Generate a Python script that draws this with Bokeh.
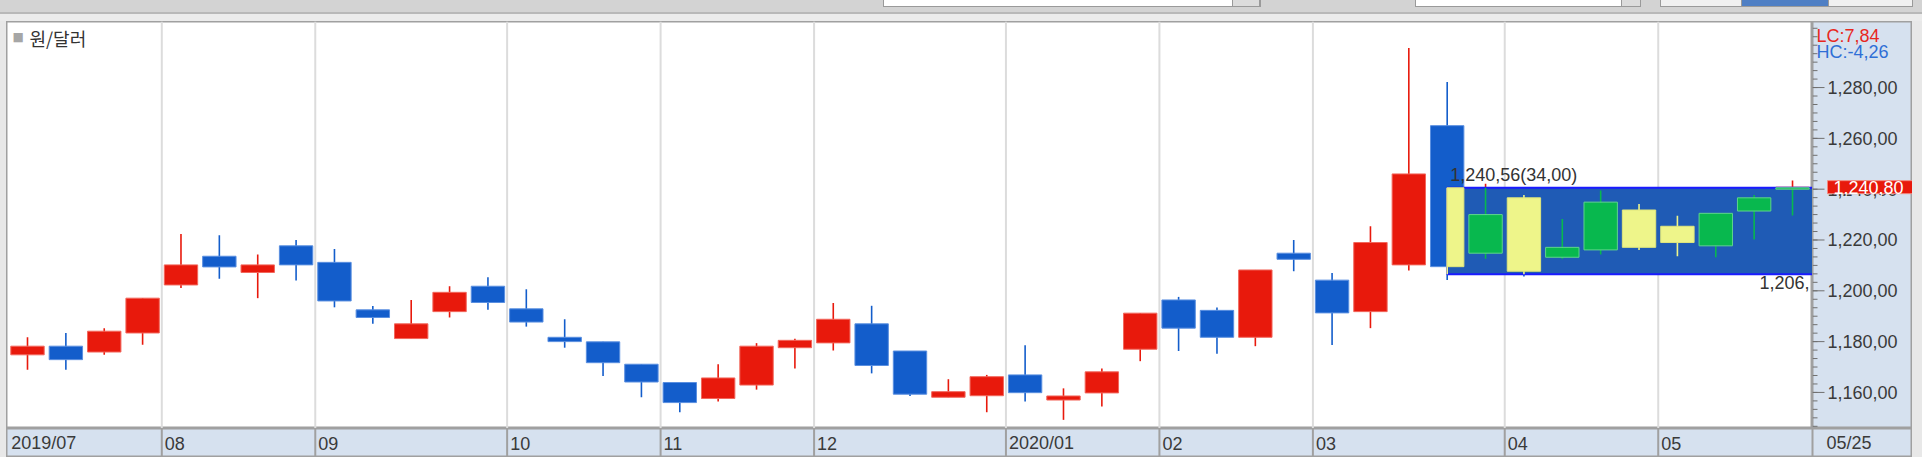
import numpy as np
from bokeh.plotting import figure
from bokeh.layouts import column, row
from bokeh.models import Range1d, Label, Span, ColumnDataSource, Div
from bokeh.embed import file_html
from bokeh.resources import INLINE
from bokeh.core.properties import value

# ---------------- data (weekly candles, KRW per USD) ----------------
dates = ["2019-07-08", "2019-07-15", "2019-07-22", "2019-07-29",
         "2019-08-05", "2019-08-12", "2019-08-19", "2019-08-26",
         "2019-09-02", "2019-09-09", "2019-09-16", "2019-09-23", "2019-09-30",
         "2019-10-07", "2019-10-14", "2019-10-21", "2019-10-28",
         "2019-11-04", "2019-11-11", "2019-11-18", "2019-11-25",
         "2019-12-02", "2019-12-09", "2019-12-16", "2019-12-23", "2019-12-30",
         "2020-01-06", "2020-01-13", "2020-01-20", "2020-01-27",
         "2020-02-03", "2020-02-10", "2020-02-17", "2020-02-24",
         "2020-03-02", "2020-03-09", "2020-03-16", "2020-03-23", "2020-03-30",
         "2020-04-06", "2020-04-13", "2020-04-20", "2020-04-27",
         "2020-05-04", "2020-05-11", "2020-05-18", "2020-05-25"]
opens = [1174.8, 1178.2, 1175.9, 1183.4, 1202.3, 1213.6, 1207.2, 1217.7, 1211.2, 1192.5,
         1181.2, 1191.8, 1201.8, 1192.9, 1181.7, 1179.9, 1171.1, 1163.9, 1157.6, 1162.9,
         1177.6, 1179.5, 1187.0, 1176.3, 1158.1, 1158.7, 1166.9, 1157.0, 1159.8, 1177.0,
         1196.4, 1192.3, 1181.7, 1214.8, 1204.2, 1191.8, 1210.2, 1265.0, 1214.8, 1236.6,
         1213.2, 1216.1, 1231.8, 1225.4, 1217.7, 1231.4, 1240.0]
highs = [1181.7, 1183.4, 1185.3, 1197.2, 1222.4, 1221.9, 1214.3, 1220.0, 1216.5, 1194.0,
         1196.4, 1201.8, 1205.3, 1200.6, 1188.8, 1179.9, 1171.1, 1163.9, 1171.1, 1179.4,
         1181.1, 1195.2, 1194.1, 1176.3, 1165.2, 1166.9, 1178.6, 1161.6, 1169.4, 1191.2,
         1197.6, 1193.4, 1208.2, 1220.0, 1207.0, 1225.4, 1295.6, 1282.2, 1242.1, 1237.7,
         1228.3, 1239.5, 1234.2, 1229.5, 1230.5, 1237.7, 1243.4]
lows = [1168.9, 1168.9, 1174.8, 1178.8, 1201.1, 1204.7, 1197.1, 1204.1, 1193.5, 1187.0,
        1181.2, 1189.5, 1192.5, 1185.9, 1177.6, 1166.5, 1158.1, 1152.2, 1156.4, 1161.1,
        1169.4, 1176.5, 1167.5, 1158.6, 1158.1, 1152.2, 1156.4, 1149.2, 1154.5, 1172.3,
        1176.3, 1175.2, 1178.2, 1207.7, 1178.7, 1185.3, 1208.0, 1204.3, 1212.6, 1205.6,
        1212.6, 1214.3, 1216.1, 1213.6, 1213.2, 1220.2, 1229.6]
closes = [1178.2, 1172.9, 1184.1, 1197.1, 1210.2, 1209.4, 1210.2, 1210.2, 1196.0, 1189.5,
          1187.0, 1199.4, 1195.4, 1187.7, 1180.0, 1171.7, 1164.1, 1156.0, 1165.7, 1178.2,
          1180.5, 1188.8, 1170.6, 1159.3, 1160.3, 1166.2, 1159.9, 1158.6, 1168.1, 1191.2,
          1185.3, 1181.7, 1208.2, 1212.4, 1191.3, 1219.0, 1246.0, 1209.5, 1230.0, 1207.7,
          1217.1, 1234.9, 1217.1, 1219.0, 1230.5, 1236.6, 1240.8]

y_ticks = [1160, 1180, 1200, 1220, 1240, 1260, 1280]
last_price = 1240.80
lc_text = "LC:7,84"
hc_text = "HC:-4,26"
box_start = "2020-03-23"
box_top = 1240.56
box_bottom = 1206.56
title_text = "원/달러"
last_date_label = "05/25"

# ---------------- styling / layout constants ----------------
RED, RED_EDGE = "#e8190c", "#f2675c"
BLUE, BLUE_EDGE = "#135dcb", "#5a8fe0"
GREEN, GREEN_EDGE = "#08b84e", "#5fd48c"
YELLOW, YELLOW_EDGE = "#eef58a", "#dfe67c"
PANEL = "#d6e1ef"
BORDER = "#a0a0a0"
UI_GRAY = "#e8e8e8"
NUM_FONT = "Liberation Sans"
KR_FONT = "Noto Sans CJK KR"
FS = "18px"

TOP_H = 21
MID_H = 407
BAND_H = 29
LEFT_W = 6
MAIN_W = 1806
PANEL_W = 100
RIGHT_W = 10
PX_PER_BAR = 38.37
FIRST_BAR_PX = 21

n = len(dates)
x = np.arange(n)
x_start = -FIRST_BAR_PX / PX_PER_BAR
x_end = x_start + MAIN_W / PX_PER_BAR
xr = Range1d(x_start, x_end)
yr = Range1d(1145.8, 1306.0)


def kfmt(v):
    return f"{v:,.2f}".replace(".", ",")


def bare(fig):
    fig.grid.visible = False
    fig.min_border_left = fig.min_border_right = 0
    fig.min_border_top = fig.min_border_bottom = 0
    return fig


# ---------------- main chart ----------------
p = bare(figure(width=MAIN_W, height=MID_H, x_range=xr, y_range=yr,
                toolbar_location=None, output_backend="svg",
                x_axis_location=None, y_axis_location=None))
p.background_fill_color = "white"
p.border_fill_color = "white"
p.outline_line_color = BORDER
p.outline_line_width = 2

months = [d[:7] for d in dates]
bounds, blabels = [], []
for i, m in enumerate(months):
    if i == 0 or m != months[i - 1]:
        bounds.append(i - 0.5)
        yy, mm = m.split("-")
        blabels.append(f"{yy}/{mm}" if (i == 0 or mm == "01") else mm)

for b in bounds[1:]:
    p.add_layout(Span(location=b, dimension="height", line_color="#dcdcdc",
                      line_width=2, level="underlay"))

o, h, l, c = map(np.array, (opens, highs, lows, closes))
up = c >= o
btop = np.maximum(o, c)
bbot = np.minimum(o, c)
W = 0.87

src = ColumnDataSource(dict(x=x, h=h, l=l, top=btop, bot=bbot,
                            color=np.where(up, RED, BLUE),
                            edge=np.where(up, RED_EDGE, BLUE_EDGE)))
p.segment(x0="x", y0="l", x1="x", y1="h", line_color="color", line_width=1.6, source=src)
p.vbar(x="x", width=W, top="top", bottom="bot", fill_color="color",
       line_color="edge", line_width=1, source=src)

bi = dates.index(box_start)
p.quad(left=[bi], right=[x_end + 1], bottom=[box_bottom], top=[box_top],
       fill_color="#1f5bb5", line_color="#1a1aff", line_width=2)

ml = np.maximum(x - W / 2, bi)
mr = x + W / 2
mb = np.maximum(bbot, box_bottom)
mt = np.minimum(btop, box_top)
sel = (mr > ml) & (mt > mb)
wy0 = np.maximum(l, box_bottom)
wy1 = np.minimum(h, box_top)
wsel = (x >= bi) & (wy1 > wy0)
p.segment(x0=x[wsel], y0=wy0[wsel], x1=x[wsel], y1=wy1[wsel],
          line_color=list(np.where(up[wsel], GREEN, YELLOW)), line_width=1.6)
p.quad(left=ml[sel], right=mr[sel], bottom=mb[sel], top=mt[sel],
       fill_color=list(np.where(up[sel], GREEN, YELLOW)),
       line_color=list(np.where(up[sel], GREEN_EDGE, YELLOW_EDGE)), line_width=1)

p.text(x=[bi], y=[box_top], text=[f"{kfmt(box_top)}({kfmt(box_top - box_bottom)})"],
       x_offset=3, y_offset=-3, text_baseline="bottom", text_align="left",
       text_font=value(NUM_FONT), text_font_size=FS, text_color="#333333")
# bottom value of the box, shown truncated at the chart edge as in the original
p.text(x=[x_end], y=[box_bottom], text=[kfmt(box_bottom)[:6]],
       x_offset=-3, y_offset=2, text_baseline="top", text_align="right",
       text_font=value(NUM_FONT), text_font_size=FS, text_color="#333333")

p.add_layout(Label(x=6, y=MID_H - 8, x_units="screen", y_units="screen", text="■",
                   text_baseline="top", text_font="DejaVu Sans", text_font_size="12px",
                   text_color="#a6a6a6"))
p.add_layout(Label(x=23, y=MID_H - 3, x_units="screen", y_units="screen", text=title_text,
                   text_baseline="top", text_font=KR_FONT, text_font_size="18px",
                   text_color="#333333"))

# ---------------- right value panel (shares the y scale) ----------------
pan = bare(figure(width=PANEL_W, height=MID_H, x_range=Range1d(0, PANEL_W), y_range=yr,
                  toolbar_location=None, output_backend="svg",
                  x_axis_location=None, y_axis_location=None))
pan.background_fill_color = PANEL
pan.border_fill_color = PANEL
pan.outline_line_color = BORDER
pan.outline_line_width = 2

minor = np.arange(1140, 1310, 20 / 6)
pan.segment(x0=[0] * len(minor), y0=minor, x1=[5] * len(minor), y1=minor,
            line_color="#707070", line_width=1)
pan.segment(x0=[0] * len(y_ticks), y0=y_ticks, x1=[12] * len(y_ticks), y1=y_ticks,
            line_color="#707070", line_width=1)
pan.text(x=[15] * len(y_ticks), y=y_ticks, text=[kfmt(t) for t in y_ticks],
         text_baseline="middle", text_align="left", text_font=value(NUM_FONT),
         text_font_size=FS, text_color="#3a3a3a")

pan.add_layout(Label(x=4, y=MID_H - 4, x_units="screen", y_units="screen", text=lc_text,
                     text_baseline="top", text_font=NUM_FONT, text_font_size="18px",
                     text_color="#e8281e"))
pan.add_layout(Label(x=4, y=MID_H - 20, x_units="screen", y_units="screen", text=hc_text,
                     text_baseline="top", text_font=NUM_FONT, text_font_size="18px",
                     text_color="#2f6fd6"))
pan.add_layout(Label(x=15, y=last_price, x_units="screen", text=kfmt(last_price),
                     text_baseline="middle", text_font=NUM_FONT, text_font_size=FS,
                     text_color="white", background_fill_color=RED,
                     border_line_color="#f28a80",
                     padding=dict(left=6, right=14, top=0, bottom=0)))

# ---------------- date band ----------------
BAND_W = MAIN_W + PANEL_W
band = bare(figure(width=BAND_W, height=BAND_H,
                   x_range=Range1d(x_start, x_start + BAND_W / PX_PER_BAR),
                   y_range=Range1d(0, 1), toolbar_location=None, output_backend="svg",
                   x_axis_location=None, y_axis_location=None))
band.background_fill_color = PANEL
band.border_fill_color = PANEL
band.outline_line_color = BORDER
band.outline_line_width = 2
for b in bounds[1:] + [x_end]:
    band.add_layout(Span(location=b, dimension="height", line_color=BORDER, line_width=2))
band.text(x=bounds, y=[0.5] * len(bounds), text=blabels, x_offset=3,
          text_baseline="middle", text_align="left",
          text_font=value(NUM_FONT), text_font_size=FS, text_color="#3a3a3a")
band.text(x=[x_end], y=[0.5], text=[last_date_label], x_offset=14,
          text_baseline="middle", text_align="left",
          text_font=value(NUM_FONT), text_font_size=FS, text_color="#3a3a3a")

# ---------------- surrounding window chrome (toolbar widgets, frame) ----------------
widgets = [  # colour, left, width, height  (partly hidden toolbar controls)
    ("#ffffff", 884, 348, 6), ("#dcdcdc", 1233, 26, 6),
    ("#ffffff", 1416, 205, 6), ("#dcdcdc", 1622, 18, 6),
    ("#f0f0f0", 1661, 80, 6), ("#4f7fc4", 1742, 86, 6), ("#f0f0f0", 1829, 83, 6),
    ("#9a9a9a", 883, 378, 7), ("#9a9a9a", 1415, 226, 7), ("#9a9a9a", 1660, 253, 7),
]
layers = [f"linear-gradient({col},{col}) {lx}px 0px / {w}px {hh}px no-repeat"
          for col, lx, w, hh in widgets]
layers.append("linear-gradient(#d3d3d3 0px, #d3d3d3 12px, #b8b8b8 12px, #b8b8b8 14px, "
              "#ebebeb 14px)")
top_strip = Div(width=LEFT_W + BAND_W + RIGHT_W, height=TOP_H, margin=0,
                styles={"background": ", ".join(layers)})
left_pad = Div(width=LEFT_W, height=MID_H + BAND_H, margin=0,
               styles={"background": UI_GRAY})
right_pad = Div(width=RIGHT_W, height=MID_H + BAND_H, margin=0,
                styles={"background": UI_GRAY})

layout = column(top_strip,
                row(left_pad, column(row(p, pan, spacing=0), band, spacing=0), right_pad,
                    spacing=0),
                spacing=0)
open("out.html", "w").write(file_html(layout, INLINE))
